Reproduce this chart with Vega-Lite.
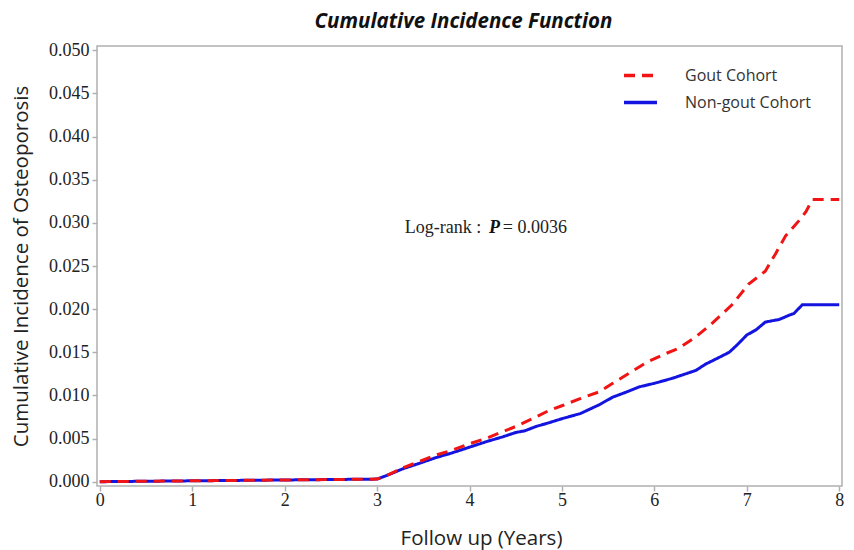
{
  "$schema": "https://vega.github.io/schema/vega-lite/v6.json",
  "autosize": {"type": "none"},
  "padding": {"left": 97, "top": 46, "right": 12, "bottom": 64},
  "width": 745,
  "height": 440,
  "background": "white",
  "title": {
    "text": "Cumulative Incidence Function",
    "font": "Open Sans",
    "fontSize": 20.5,
    "fontWeight": "bold",
    "fontStyle": "italic",
    "color": "#111111",
    "anchor": "middle",
    "offset": 9,
    "dx": -6
  },
  "config": {
    "view": {"stroke": "#b0b0b0", "strokeWidth": 1.5},
    "axis": {
      "domain": false,
      "grid": false,
      "tickColor": "#b0b0b0",
      "tickWidth": 1.5,
      "tickSize": 5,
      "labelFont": "Liberation Serif",
      "labelFontSize": 18,
      "labelColor": "#222222",
      "titleFont": "Open Sans",
      "titleFontSize": 20.5,
      "titleFontWeight": "normal",
      "titleColor": "#222222"
    }
  },
  "datasets": {
    "curves": [
      {"t": 0, "ci": 0, "cohort": "Non-gout Cohort"},
      {"t": 0.5, "ci": 0.00005, "cohort": "Non-gout Cohort"},
      {"t": 1, "ci": 0.0001, "cohort": "Non-gout Cohort"},
      {"t": 1.5, "ci": 0.00015, "cohort": "Non-gout Cohort"},
      {"t": 2, "ci": 0.0002, "cohort": "Non-gout Cohort"},
      {"t": 2.5, "ci": 0.00025, "cohort": "Non-gout Cohort"},
      {"t": 3, "ci": 0.0003, "cohort": "Non-gout Cohort"},
      {"t": 3.1, "ci": 0.0007, "cohort": "Non-gout Cohort"},
      {"t": 3.28, "ci": 0.0015, "cohort": "Non-gout Cohort"},
      {"t": 3.45, "ci": 0.0021, "cohort": "Non-gout Cohort"},
      {"t": 3.64, "ci": 0.0028, "cohort": "Non-gout Cohort"},
      {"t": 3.8, "ci": 0.0033, "cohort": "Non-gout Cohort"},
      {"t": 4.0, "ci": 0.0040, "cohort": "Non-gout Cohort"},
      {"t": 4.2, "ci": 0.0047, "cohort": "Non-gout Cohort"},
      {"t": 4.36, "ci": 0.0052, "cohort": "Non-gout Cohort"},
      {"t": 4.5, "ci": 0.0057, "cohort": "Non-gout Cohort"},
      {"t": 4.6, "ci": 0.0059, "cohort": "Non-gout Cohort"},
      {"t": 4.72, "ci": 0.0064, "cohort": "Non-gout Cohort"},
      {"t": 4.85, "ci": 0.0068, "cohort": "Non-gout Cohort"},
      {"t": 5.0, "ci": 0.0073, "cohort": "Non-gout Cohort"},
      {"t": 5.2, "ci": 0.0079, "cohort": "Non-gout Cohort"},
      {"t": 5.4, "ci": 0.0089, "cohort": "Non-gout Cohort"},
      {"t": 5.55, "ci": 0.0098, "cohort": "Non-gout Cohort"},
      {"t": 5.7, "ci": 0.0104, "cohort": "Non-gout Cohort"},
      {"t": 5.84, "ci": 0.0110, "cohort": "Non-gout Cohort"},
      {"t": 6.0, "ci": 0.0114, "cohort": "Non-gout Cohort"},
      {"t": 6.2, "ci": 0.0120, "cohort": "Non-gout Cohort"},
      {"t": 6.45, "ci": 0.0129, "cohort": "Non-gout Cohort"},
      {"t": 6.55, "ci": 0.0136, "cohort": "Non-gout Cohort"},
      {"t": 6.7, "ci": 0.0144, "cohort": "Non-gout Cohort"},
      {"t": 6.81, "ci": 0.0150, "cohort": "Non-gout Cohort"},
      {"t": 6.9, "ci": 0.0159, "cohort": "Non-gout Cohort"},
      {"t": 7.0, "ci": 0.0170, "cohort": "Non-gout Cohort"},
      {"t": 7.1, "ci": 0.0176, "cohort": "Non-gout Cohort"},
      {"t": 7.2, "ci": 0.0185, "cohort": "Non-gout Cohort"},
      {"t": 7.35, "ci": 0.0188, "cohort": "Non-gout Cohort"},
      {"t": 7.46, "ci": 0.0193, "cohort": "Non-gout Cohort"},
      {"t": 7.51, "ci": 0.0195, "cohort": "Non-gout Cohort"},
      {"t": 7.6, "ci": 0.0205, "cohort": "Non-gout Cohort"},
      {"t": 8.0, "ci": 0.0205, "cohort": "Non-gout Cohort"},
      {"t": 0, "ci": 0, "cohort": "Gout Cohort"},
      {"t": 0.5, "ci": 0.00005, "cohort": "Gout Cohort"},
      {"t": 1, "ci": 0.0001, "cohort": "Gout Cohort"},
      {"t": 1.5, "ci": 0.00015, "cohort": "Gout Cohort"},
      {"t": 2, "ci": 0.0002, "cohort": "Gout Cohort"},
      {"t": 2.5, "ci": 0.00025, "cohort": "Gout Cohort"},
      {"t": 3, "ci": 0.0003, "cohort": "Gout Cohort"},
      {"t": 3.1, "ci": 0.0007, "cohort": "Gout Cohort"},
      {"t": 3.28, "ci": 0.0016, "cohort": "Gout Cohort"},
      {"t": 3.45, "ci": 0.0023, "cohort": "Gout Cohort"},
      {"t": 3.64, "ci": 0.0031, "cohort": "Gout Cohort"},
      {"t": 3.8, "ci": 0.0036, "cohort": "Gout Cohort"},
      {"t": 4.0, "ci": 0.0044, "cohort": "Gout Cohort"},
      {"t": 4.2, "ci": 0.0051, "cohort": "Gout Cohort"},
      {"t": 4.36, "ci": 0.0058, "cohort": "Gout Cohort"},
      {"t": 4.5, "ci": 0.0064, "cohort": "Gout Cohort"},
      {"t": 4.72, "ci": 0.0075, "cohort": "Gout Cohort"},
      {"t": 4.85, "ci": 0.0082, "cohort": "Gout Cohort"},
      {"t": 5.0, "ci": 0.0088, "cohort": "Gout Cohort"},
      {"t": 5.19, "ci": 0.0096, "cohort": "Gout Cohort"},
      {"t": 5.4, "ci": 0.0104, "cohort": "Gout Cohort"},
      {"t": 5.55, "ci": 0.0114, "cohort": "Gout Cohort"},
      {"t": 5.7, "ci": 0.0124, "cohort": "Gout Cohort"},
      {"t": 5.91, "ci": 0.0138, "cohort": "Gout Cohort"},
      {"t": 6.09, "ci": 0.0147, "cohort": "Gout Cohort"},
      {"t": 6.27, "ci": 0.0155, "cohort": "Gout Cohort"},
      {"t": 6.45, "ci": 0.0168, "cohort": "Gout Cohort"},
      {"t": 6.63, "ci": 0.0184, "cohort": "Gout Cohort"},
      {"t": 6.84, "ci": 0.0205, "cohort": "Gout Cohort"},
      {"t": 7.02, "ci": 0.0229, "cohort": "Gout Cohort"},
      {"t": 7.2, "ci": 0.0244, "cohort": "Gout Cohort"},
      {"t": 7.31, "ci": 0.0264, "cohort": "Gout Cohort"},
      {"t": 7.42, "ci": 0.0285, "cohort": "Gout Cohort"},
      {"t": 7.56, "ci": 0.0302, "cohort": "Gout Cohort"},
      {"t": 7.64, "ci": 0.0313, "cohort": "Gout Cohort"},
      {"t": 7.71, "ci": 0.0327, "cohort": "Gout Cohort"},
      {"t": 8.0, "ci": 0.0327, "cohort": "Gout Cohort"}
    ],
    "notes": [
      {"part": "plain", "t": 3.30, "ci": 0.0294, "text": "Log-rank :"},
      {"part": "p", "t": 4.21, "ci": 0.0294, "text": "P"},
      {"part": "value", "t": 4.36, "ci": 0.0294, "text": "= 0.0036"}
    ]
  },
  "layer": [
    {
      "data": {"name": "curves"},
      "mark": {"type": "line", "strokeWidth": 3, "interpolate": "linear"},
      "encoding": {
        "x": {
          "field": "t",
          "type": "quantitative",
          "scale": {"domain": [-0.03, 8.03], "nice": false, "zero": false},
          "axis": {"values": [0, 1, 2, 3, 4, 5, 6, 7, 8], "format": "d", "labelPadding": 0, "title": "Follow up (Years)", "titlePadding": 19, "titleX": 384, "titleAlign": "center"}
        },
        "y": {
          "field": "ci",
          "type": "quantitative",
          "scale": {"domain": [-0.0005, 0.0505], "nice": false, "zero": false},
          "axis": {"values": [0, 0.005, 0.01, 0.015, 0.02, 0.025, 0.03, 0.035, 0.04, 0.045, 0.05], "format": ".3f", "labelPadding": 3, "title": "Cumulative Incidence of Osteoporosis", "titlePadding": 17}
        },
        "color": {
          "field": "cohort",
          "type": "nominal",
          "scale": {"domain": ["Gout Cohort", "Non-gout Cohort"], "range": ["#f01414", "#1414e0"]},
          "legend": {
            "title": null,
            "orient": "none",
            "legendX": 525,
            "legendY": 11,
            "symbolType": "stroke",
            "symbolSize": 1089,
            "symbolStrokeWidth": 3.5,
            "labelOffset": 26,
            "labelFont": "Open Sans",
            "labelFontSize": 16,
            "labelColor": "#333333",
            "rowPadding": -1
          }
        },
        "strokeDash": {
          "field": "cohort",
          "type": "nominal",
          "scale": {"domain": ["Gout Cohort", "Non-gout Cohort"], "range": [[11, 7], [1, 0]]},
          "legend": null
        },
        "order": {"field": "t", "type": "quantitative"}
      }
    },
    {
      "data": {"name": "notes"},
      "transform": [{"filter": "datum.part !== 'p'"}],
      "mark": {"type": "text", "align": "left", "baseline": "middle", "font": "Liberation Serif", "fontSize": 18, "color": "#222222"},
      "encoding": {
        "x": {"field": "t", "type": "quantitative"},
        "y": {"field": "ci", "type": "quantitative"},
        "text": {"field": "text"}
      }
    },
    {
      "data": {"name": "notes"},
      "transform": [{"filter": "datum.part === 'p'"}],
      "mark": {"type": "text", "align": "left", "baseline": "middle", "font": "Liberation Serif", "fontSize": 18, "fontWeight": "bold", "fontStyle": "italic", "color": "#111111"},
      "encoding": {
        "x": {"field": "t", "type": "quantitative"},
        "y": {"field": "ci", "type": "quantitative"},
        "text": {"field": "text"}
      }
    }
  ]
}
